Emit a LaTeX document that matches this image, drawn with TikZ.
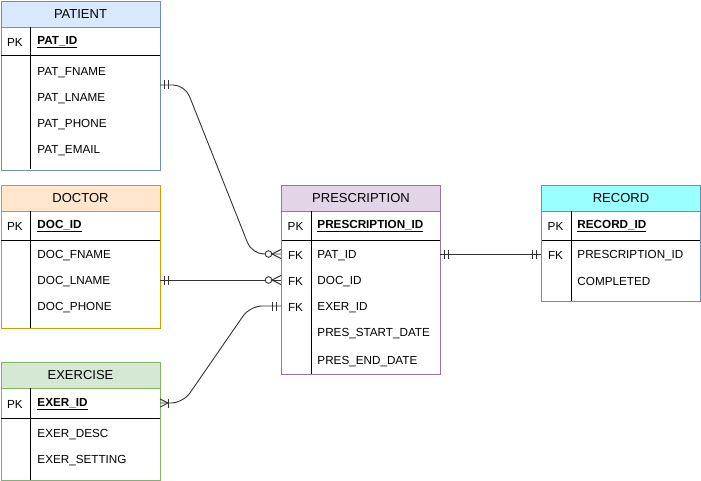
\documentclass[tikz,border=0pt]{standalone}
\usepackage{fontspec}
\setmainfont{Liberation Sans}
\definecolor{patF}{HTML}{DAE8FC}\definecolor{patD}{HTML}{6C8EBF}
\definecolor{docF}{HTML}{FFE6CC}\definecolor{docD}{HTML}{D79B00}
\definecolor{exeF}{HTML}{D5E8D4}\definecolor{exeD}{HTML}{82B366}
\definecolor{preF}{HTML}{E1D5E7}\definecolor{preD}{HTML}{9673A6}
\definecolor{recF}{HTML}{99FFFF}\definecolor{recD}{HTML}{6C8EBF}
\definecolor{relC}{HTML}{333333}
\begin{document}
\begin{tikzpicture}[x=1pt,y=-1pt,line width=0.9pt,
  tblbox/.style={rectangle,draw,minimum width=159pt,inner sep=0pt,anchor=north west,line width=1pt},
  hdr/.style={rectangle,draw,minimum width=159pt,minimum height=26pt,inner sep=0pt,anchor=north west,line width=1pt,font=\fontsize{13}{15}\selectfont},
  fld/.style={anchor=west,inner sep=0pt,yshift=-1.5pt,font=\fontsize{11.7}{14}\selectfont},
  keyl/.style={anchor=center,inner sep=0pt,yshift=-1.5pt,font=\fontsize{11.7}{14}\selectfont},
  pkf/.style={anchor=west,inner sep=0pt,yshift=-1.5pt,font=\fontsize{11.7}{14}\selectfont\bfseries},
  sep/.style={line width=1pt,black},
  rel/.style={draw=relC,line width=0.9pt,rounded corners=12pt},
  mk/.style={draw=relC,line width=0.9pt}
]
\useasboundingbox (0,0) rectangle (701,481);

% ---------- PATIENT ----------
\node[tblbox,draw=patD,minimum height=169pt] (patient) at (0.5,1) {};
\node[hdr,fill=patF,draw=patD] (patientH) at (0.5,1) {PATIENT};
\draw[sep] (30.5,27) -- (30.5,169.5);
\draw[sep] (1,56) -- (159.5,56);
\node[keyl] (patpk) at (15,41) {PK};
\node[pkf] (patid) at (37,41) {\underline{PAT\_ID}};
\node[fld] (patf1) at (37,71) {PAT\_FNAME};
\node[fld] (patf2) at (37,97) {PAT\_LNAME};
\node[fld] (patf3) at (37,123) {PAT\_PHONE};
\node[fld] (patf4) at (37,149) {PAT\_EMAIL};

% ---------- DOCTOR ----------
\node[tblbox,draw=docD,minimum height=143pt] (doctor) at (0.5,185) {};
\node[hdr,fill=docF,draw=docD] (doctorH) at (0.5,185) {DOCTOR};
\draw[sep] (30.5,211) -- (30.5,327.5);
\draw[sep] (1,240) -- (159.5,240);
\node[keyl] (docpk) at (15,225) {PK};
\node[pkf] (docid) at (37,225) {\underline{DOC\_ID}};
\node[fld] (docf1) at (37,254) {DOC\_FNAME};
\node[fld] (docf2) at (37,280) {DOC\_LNAME};
\node[fld] (docf3) at (37,306) {DOC\_PHONE};

% ---------- EXERCISE ----------
\node[tblbox,draw=exeD,minimum height=118pt] (exercise) at (0.5,362) {};
\node[hdr,fill=exeF,draw=exeD] (exerciseH) at (0.5,362) {EXERCISE};
\draw[sep] (30.5,388) -- (30.5,479.5);
\draw[sep] (1,418) -- (159.5,418);
\node[keyl] (exepk) at (15,403) {PK};
\node[pkf] (exeid) at (37,403) {\underline{EXER\_ID}};
\node[fld] (exef1) at (37,433) {EXER\_DESC};
\node[fld] (exef2) at (37,459) {EXER\_SETTING};

% ---------- PRESCRIPTION ----------
\node[tblbox,draw=preD,minimum height=189pt] (presc) at (281,185) {};
\node[hdr,fill=preF,draw=preD] (prescH) at (281,185) {PRESCRIPTION};
\draw[sep] (311,211) -- (311,373.5);
\draw[sep] (281.5,240) -- (439.5,240);
\node[keyl] (prepk) at (295.5,225) {PK};
\node[pkf] (preid) at (317,225) {\underline{PRESCRIPTION\_ID}};
\node[keyl] (prefk1) at (295.5,254) {FK};
\node[fld] (pref1) at (317,254) {PAT\_ID};
\node[keyl] (prefk2) at (295.5,280) {FK};
\node[fld] (pref2) at (317,280) {DOC\_ID};
\node[keyl] (prefk3) at (295.5,306) {FK};
\node[fld] (pref3) at (317,306) {EXER\_ID};
\node[fld] (pref4) at (317,332) {PRES\_START\_DATE};
\node[fld] (pref5) at (317,360) {PRES\_END\_DATE};

% ---------- RECORD ----------
\node[tblbox,draw=recD,minimum height=116pt] (record) at (541,185) {};
\node[hdr,fill=recF,draw=recD] (recordH) at (541,185) {RECORD};
\draw[sep] (571,211) -- (571,300.5);
\draw[sep] (541.5,240) -- (699.5,240);
\node[keyl] (recpk) at (555.5,225) {PK};
\node[pkf] (recid) at (577,225) {\underline{RECORD\_ID}};
\node[keyl] (recfk) at (555.5,254) {FK};
\node[fld] (recf1) at (577,254) {PRESCRIPTION\_ID};
\node[fld] (recf2) at (577,280) {COMPLETED};

% ---------- connector end points ----------
\coordinate (p1a) at (160,85);
\coordinate (p1b) at (281,254);
\coordinate (p2a) at (160,280);
\coordinate (p2b) at (281,280);
\coordinate (p3a) at (160,403);
\coordinate (p3b) at (281,306);
\coordinate (p4a) at (440,254);
\coordinate (p4b) at (541,254);

% ---------- connectors ----------
\draw[rel] (p1a) -- ++(25,0) -- ([xshift=-29pt]p1b) -- (p1b);
\draw[rel] (p2a) -- (p2b);
\draw[rel] (p3a) -- ++(23,0) -- ([xshift=-31pt]p3b) -- (p3b);
\draw[rel] (p4a) -- (p4b);

% ---------- markers ----------
% mandatory one at PATIENT
\draw[mk] ([xshift=4.5pt,yshift=4.5pt]p1a) -- ++(0,9);
\draw[mk] ([xshift=8.5pt,yshift=4.5pt]p1a) -- ++(0,9);
% zero or many at PRESCRIPTION (PAT_ID)
\draw[mk] ([xshift=-9pt]p1b) -- ([yshift=-4.5pt]p1b);
\draw[mk] ([xshift=-9pt]p1b) -- ([yshift=4.5pt]p1b);
\draw[mk,fill=white] ([xshift=-12.5pt]p1b) circle (3.3pt);
% mandatory one at DOCTOR
\draw[mk] ([xshift=4.5pt,yshift=4.5pt]p2a) -- ++(0,9);
\draw[mk] ([xshift=8.5pt,yshift=4.5pt]p2a) -- ++(0,9);
% zero or many at PRESCRIPTION (DOC_ID)
\draw[mk] ([xshift=-9pt]p2b) -- ([yshift=-4.5pt]p2b);
\draw[mk] ([xshift=-9pt]p2b) -- ([yshift=4.5pt]p2b);
\draw[mk,fill=white] ([xshift=-12.5pt]p2b) circle (3.3pt);
% one or many at EXERCISE
\draw[mk] ([yshift=-4pt]p3a) -- ([xshift=8pt]p3a) -- ([yshift=4pt]p3a);
\draw[mk] ([xshift=8.5pt,yshift=4.5pt]p3a) -- ++(0,9);
% mandatory one at PRESCRIPTION (EXER_ID)
\draw[mk] ([xshift=-9pt,yshift=4.5pt]p3b) -- ++(0,9);
\draw[mk] ([xshift=-5pt,yshift=4.5pt]p3b) -- ++(0,9);
% mandatory one both ends PRESCRIPTION--RECORD
\draw[mk] ([xshift=4.5pt,yshift=4.5pt]p4a) -- ++(0,9);
\draw[mk] ([xshift=8.5pt,yshift=4.5pt]p4a) -- ++(0,9);
\draw[mk] ([xshift=-9pt,yshift=4.5pt]p4b) -- ++(0,9);
\draw[mk] ([xshift=-5pt,yshift=4.5pt]p4b) -- ++(0,9);
\end{tikzpicture}
\end{document}
